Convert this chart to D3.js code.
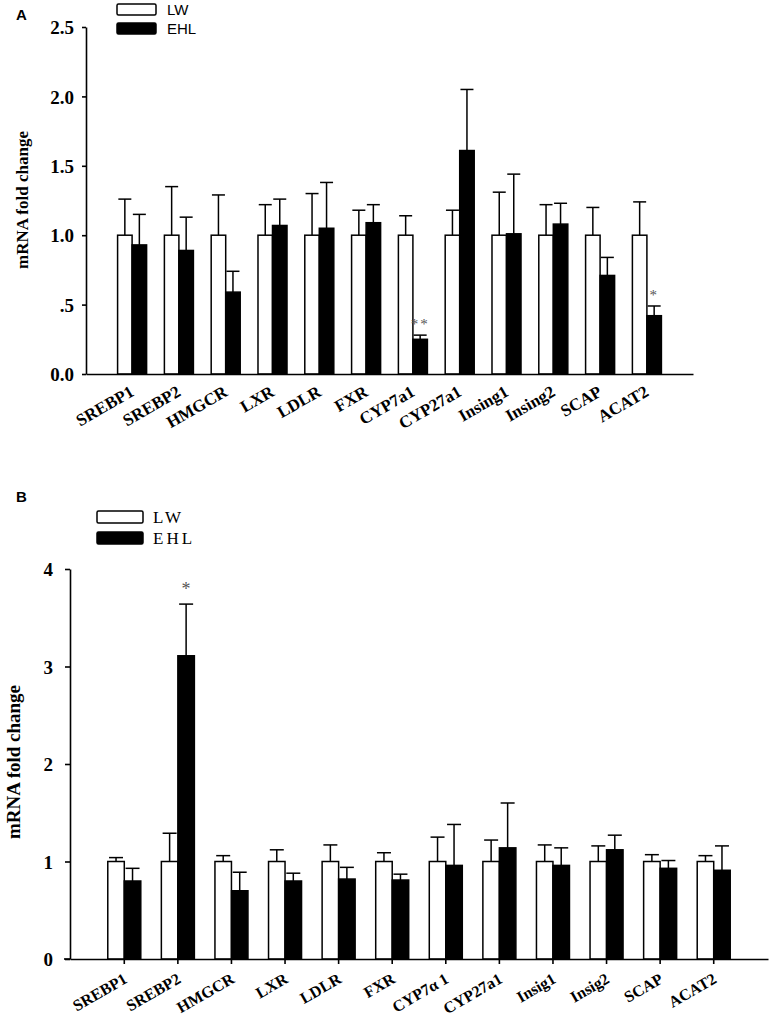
<!DOCTYPE html>
<html lang="en">
<head>
<meta charset="utf-8">
<title>mRNA fold change</title>
<script src="https://cdn.jsdelivr.net/npm/d3@7"></script>
<style>
  body { margin: 0; background: #fff; }
  .serif { font-family: "Liberation Serif", "Times New Roman", serif; }
  .sans { font-family: "Liberation Sans", Arial, sans-serif; }
</style>
</head>
<body>
<div id="chart"></div>
<script>
// ---- panel A data ----
var genesA = ["SREBP1","SREBP2","HMGCR","LXR","LDLR","FXR","CYP7a1","CYP27a1","Insing1","Insing2","SCAP","ACAT2"];
var lwA    = [1, 1, 1, 1, 1, 1, 1, 1, 1, 1, 1, 1];
var lwSeA  = [0.26, 0.35, 0.29, 0.22, 0.30, 0.18, 0.14, 0.18, 0.31, 0.22, 0.20, 0.24];
var ehlA   = [0.93, 0.89, 0.59, 1.07, 1.05, 1.09, 0.25, 1.61, 1.01, 1.08, 0.71, 0.42];
var ehlSeA = [0.22, 0.24, 0.15, 0.19, 0.33, 0.13, 0.03, 0.44, 0.43, 0.15, 0.13, 0.07];
var sigA   = ["", "", "", "", "", "", "**", "", "", "", "", "*"];
var ticksA = [0, 0.5, 1.0, 1.5, 2.0, 2.5];
var tickLabelsA = ["0.0", ".5", "1.0", "1.5", "2.0", "2.5"];

// ---- panel B data ----
var genesB = ["SREBP1","SREBP2","HMGCR","LXR","LDLR","FXR","CYP7\u03b1 1","CYP27a1","Insig1","Insig2","SCAP","ACAT2"];
var lwB    = [1, 1, 1, 1, 1, 1, 1, 1, 1, 1, 1, 1];
var lwSeB  = [0.04, 0.29, 0.06, 0.12, 0.17, 0.09, 0.25, 0.22, 0.17, 0.16, 0.07, 0.06];
var ehlB   = [0.80, 3.11, 0.70, 0.80, 0.82, 0.81, 0.96, 1.14, 0.96, 1.12, 0.93, 0.91];
var ehlSeB = [0.13, 0.53, 0.19, 0.08, 0.12, 0.06, 0.42, 0.46, 0.18, 0.15, 0.08, 0.25];
var sigB   = ["", "*", "", "", "", "", "", "", "", "", "", ""];
var ticksB = [0, 1, 2, 3, 4];
var tickLabelsB = ["0", "1", "2", "3", "4"];

var seriesNames = ["LW", "EHL"];
var seriesFill = ["#fff", "#000"];

var w = 771, h = 1018;

var svg = d3.select("#chart").append("svg")
  .attr("width", w)
  .attr("height", h);

function drawPanel(p) {
  var x = d3.scaleBand()
    .domain(p.genes)
    .range(p.xRange)
    .paddingInner(p.padIn)
    .paddingOuter(p.padOut);

  var y = d3.scaleLinear()
    .domain([0, p.ticks[p.ticks.length - 1]])
    .range(p.yRange);

  var bw = x.bandwidth() / 2;

  var rows = p.genes.map(function(g, i) {
    return [
      {gene: g, s: 0, v: p.lw[i], se: p.lwSe[i]},
      {gene: g, s: 1, v: p.ehl[i], se: p.ehlSe[i], sig: p.sig[i]}
    ];
  });
  var flat = [].concat.apply([], rows);

  var g = svg.append("g");

  // error whiskers (upper only)
  g.selectAll("line.err")
    .data(flat)
    .enter().append("line")
    .attr("class", "err")
    .attr("x1", d => x(d.gene) + bw * d.s + bw / 2)
    .attr("x2", d => x(d.gene) + bw * d.s + bw / 2)
    .attr("y1", d => y(d.v))
    .attr("y2", d => y(d.v + d.se))
    .attr("stroke", "#000")
    .attr("stroke-width", 1.5);

  g.selectAll("line.cap")
    .data(flat)
    .enter().append("line")
    .attr("class", "cap")
    .attr("x1", d => x(d.gene) + bw * d.s + bw / 2 - p.cap / 2)
    .attr("x2", d => x(d.gene) + bw * d.s + bw / 2 + p.cap / 2)
    .attr("y1", d => y(d.v + d.se))
    .attr("y2", d => y(d.v + d.se))
    .attr("stroke", "#000")
    .attr("stroke-width", 1.5);

  g.selectAll("rect.bar")
    .data(flat)
    .enter().append("rect")
    .attr("class", "bar")
    .attr("x", d => x(d.gene) + bw * d.s)
    .attr("y", d => y(d.v))
    .attr("width", bw)
    .attr("height", d => y(0) - y(d.v))
    .attr("fill", d => seriesFill[d.s])
    .attr("stroke", "#000")
    .attr("stroke-width", 1.5);

  // significance stars
  g.selectAll("text.sig")
    .data(flat.filter(d => d.sig))
    .enter().append("text")
    .attr("class", "serif")
    .attr("x", d => x(d.gene) + bw * d.s + bw / 2)
    .attr("y", d => y(d.v + d.se) - p.sigOff)
    .attr("text-anchor", "middle")
    .attr("font-size", p.sigSize)
    .attr("letter-spacing", p.sigSpacing)
    .attr("fill", "#555")
    .text(d => d.sig);

  // y axis
  var yAxis = d3.axisLeft(y)
    .tickValues(p.ticks)
    .tickSize(p.yTickSize)
    .tickPadding(p.yTickPad)
    .tickSizeOuter(0)
    .tickFormat((d, i) => p.tickLabels[i]);

  var ya = g.append("g")
    .attr("transform", "translate(" + p.xRange[0] + ",0)")
    .call(yAxis);
  ya.attr("font-family", null).attr("font-size", null);
  ya.selectAll("path, line").attr("stroke-width", 1.6);
  ya.selectAll("text")
    .attr("class", "serif")
    .attr("font-weight", "bold")
    .attr("font-size", p.yTickFont)
    .attr("dy", "0.35em");

  // x axis
  var xAxis = d3.axisBottom(x)
    .tickSize(p.xTickSize)
    .tickSizeOuter(0);

  var xa = g.append("g")
    .attr("transform", "translate(0," + y(0) + ")")
    .call(xAxis);
  xa.attr("font-family", null).attr("font-size", null);
  xa.selectAll("path, line").attr("stroke-width", 1.6);
  xa.selectAll("text")
    .attr("class", "serif")
    .attr("font-weight", "bold")
    .attr("font-size", p.xTickFont)
    .attr("text-anchor", "end")
    .attr("x", 0)
    .attr("y", 0)
    .attr("dy", 0)
    .attr("transform", "translate(" + p.labDx + "," + p.labDy + ") rotate(" + p.labRot + ")");

  if (p.xExtend) {
    xa.append("line")
      .attr("x1", p.xRange[0] - p.xExtend)
      .attr("x2", p.xRange[0])
      .attr("stroke", "#000")
      .attr("stroke-width", 1.6);
  }

  // y title
  svg.append("text")
    .attr("class", "serif")
    .attr("font-weight", "bold")
    .attr("font-size", p.titleSize)
    .attr("text-anchor", "middle")
    .attr("transform", "translate(" + p.titleX + "," + p.titleY + ") rotate(-90)")
    .text("mRNA fold change");

  // panel letter
  svg.append("text")
    .attr("class", "sans")
    .attr("font-weight", "bold")
    .attr("font-size", 15)
    .attr("x", p.letterX)
    .attr("y", p.letterY)
    .text(p.letter);

  // legend
  var lg = svg.append("g")
    .attr("transform", "translate(" + p.legX + "," + p.legY + ")");
  lg.selectAll("rect")
    .data(seriesNames)
    .enter().append("rect")
    .attr("x", 0)
    .attr("y", (d, i) => i * p.legGap)
    .attr("width", p.legW)
    .attr("height", p.legH)
    .attr("rx", 1.5)
    .attr("fill", (d, i) => seriesFill[i])
    .attr("stroke", "#000")
    .attr("stroke-width", 1.5);
  lg.selectAll("text")
    .data(seriesNames)
    .enter().append("text")
    .attr("class", p.legClass)
    .attr("x", p.legW + p.legTextDx)
    .attr("y", (d, i) => i * p.legGap + p.legH)
    .attr("font-size", p.legFont)
    .attr("letter-spacing", p.legSpacing)
    .text(d => d);
}

drawPanel({
  letter: "A", letterX: 16, letterY: 20,
  genes: genesA, lw: lwA, lwSe: lwSeA, ehl: ehlA, ehlSe: ehlSeA, sig: sigA,
  ticks: ticksA, tickLabels: tickLabelsA,
  xRange: [86, 693], yRange: [374, 27], padIn: 0.38, padOut: 0.675,
  cap: 13, sigOff: 6, sigSize: 15, sigSpacing: 2,
  yTickSize: 4, yTickPad: 8, yTickFont: 19,
  xTickSize: 0, xTickFont: 17, labDx: 3, labDy: 21, labRot: -30,
  titleX: 28, titleY: 200, titleSize: 17,
  legX: 117, legY: 4, legW: 39, legH: 11, legGap: 19,
  legClass: "sans", legFont: 15, legTextDx: 11, legSpacing: 0
});

drawPanel({
  letter: "B", letterX: 16, letterY: 502,
  genes: genesB, lw: lwB, lwSe: lwSeB, ehl: ehlB, ehlSe: ehlSeB, sig: sigB,
  ticks: ticksB, tickLabels: tickLabelsB,
  xRange: [70, 768], yRange: [959, 569], padIn: 0.384, padOut: 0.705,
  cap: 14, sigOff: 9, sigSize: 18, sigSpacing: 0,
  yTickSize: 5, yTickPad: 12, yTickFont: 19,
  xTickSize: 5, xTickFont: 16, labDx: 4, labDy: 23, labRot: -30,
  xExtend: 6,
  titleX: 20, titleY: 762, titleSize: 19,
  legX: 97, legY: 511, legW: 46, legH: 12, legGap: 21,
  legClass: "serif", legFont: 17, legTextDx: 10, legSpacing: 3
});
</script>
</body>
</html>
